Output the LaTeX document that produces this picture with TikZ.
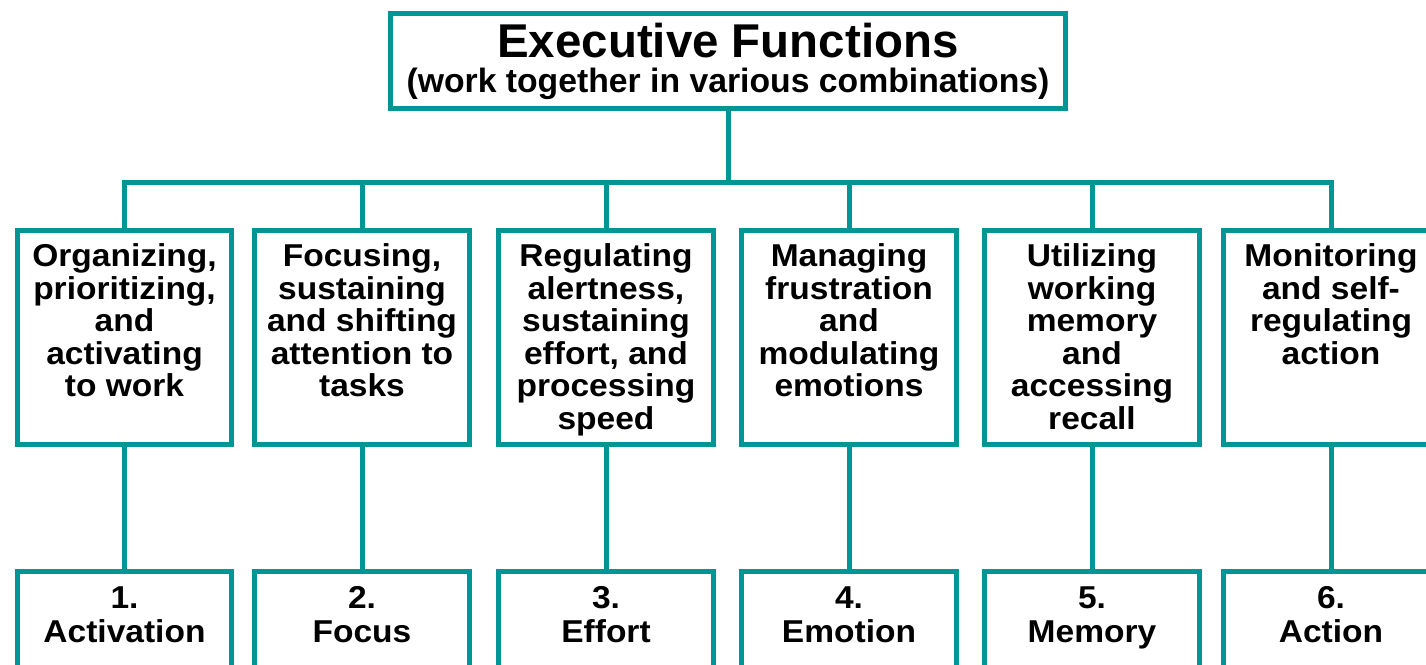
\documentclass[tikz,border=0pt]{standalone}
\usepackage{fontspec}
\setmainfont{Liberation Sans}
\newfontfamily\boxfont{Liberation Sans}[FakeStretch=1.06]
\definecolor{efteal}{RGB}{0,150,150}

\tikzset{
  box/.style={draw=efteal, line width=0.1cm, rectangle, inner sep=0pt},
  midbox/.style={box, minimum width=4.3cm, minimum height=4.28cm,
    font=\boxfont\bfseries\fontsize{18}{18.5}\selectfont,
    execute at begin node={\begin{minipage}[c][3.74cm][t]{4.25cm}\centering},
    execute at end node={\end{minipage}}},
  numbox/.style={box, minimum width=4.3cm, minimum height=1.95cm,
    font=\boxfont\bfseries\fontsize{18}{19.3}\selectfont,
    execute at begin node={\begin{minipage}[c][1.33cm][t]{4.25cm}\centering},
    execute at end node={\end{minipage}}},
  link/.style={draw=efteal, line width=0.1cm}
}

\begin{document}
\begin{tikzpicture}[x=0.02cm, y=-0.02cm]
    % Fix the page to the size of the reference
    \useasboundingbox (0,0) rectangle (1426,665);

    % Main box at the top
    \node[box, minimum width=13.5cm, minimum height=1.9cm, align=center,
          font=\bfseries\fontsize{19.2}{20}\selectfont] (ef) at (728,61)
        {{\fontsize{27}{28}\selectfont Executive Functions}\\
         (work together in various combinations)};

    % The six groups of skills
    \node[midbox] (org) at (124.5,337.5) {Organizing,\\ prioritizing,\\ and\\ activating\\ to work};
    \node[midbox] (foc) at (362,337.5) {Focusing,\\ sustaining\\ and shifting\\ attention to\\ tasks};
    \node[midbox] (reg) at (606,337.5) {Regulating\\ alertness,\\ sustaining\\ effort, and\\ processing\\ speed};
    \node[midbox] (man) at (849,337.5) {Managing\\ frustration\\ and\\ modulating\\ emotions};
    \node[midbox] (uti) at (1092,337.5) {Utilizing\\ working\\ memory\\ and\\ accessing\\ recall};
    \node[midbox] (mon) at (1331,337.5) {Monitoring\\ and self-\\ regulating\\ action};

    % The numbered clusters at the bottom
    \node[numbox] (act) at (124.5,620) {1.\\ Activation};
    \node[numbox] (fcs) at (362,620) {2.\\ Focus};
    \node[numbox] (eff) at (606,620) {3.\\ Effort};
    \node[numbox] (emo) at (849,620) {4.\\ Emotion};
    \node[numbox] (mem) at (1092,620) {5.\\ Memory};
    \node[numbox] (actn) at (1331,620) {6.\\ Action};

    % Tree lines from the main box
    \coordinate (bus) at (728,182.5);
    \draw[link] (ef.south) -- (bus);
    \draw[link] (org.north) -- (org.north |- bus) -- (mon.north |- bus) -- (mon.north);
    \foreach \n in {foc,reg,man,uti}
        \draw[link] (\n.north |- bus) -- (\n.north);

    % Each group down to its cluster
    \foreach \a/\b in {org/act,foc/fcs,reg/eff,man/emo,uti/mem,mon/actn}
        \draw[link] (\a) -- (\b);
\end{tikzpicture}
\end{document}
